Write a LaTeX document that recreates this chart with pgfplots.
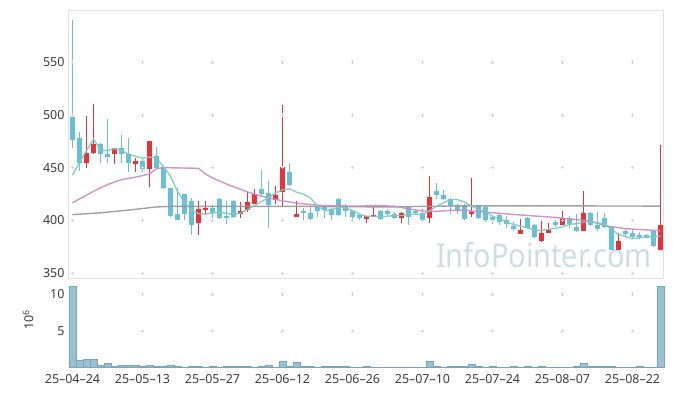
\documentclass[border=0pt]{standalone}
\usepackage{pgfplots}
\pgfplotsset{compat=1.18}
\usepackage{pgfplotstable}
\usepackage{fontspec}
\setmainfont{Noto Sans}
\definecolor{upred}{RGB}{232,50,58}
\definecolor{dnblue}{RGB}{104,192,216}
\definecolor{maA}{RGB}{128,200,190}
\definecolor{maB}{RGB}{204,136,196}
\definecolor{maC}{RGB}{150,150,150}
\definecolor{volfill}{RGB}{155,192,208}
\definecolor{voledge}{RGB}{120,165,185}
\definecolor{wm}{RGB}{205,221,232}
\definecolor{gridc}{RGB}{212,212,212}
\definecolor{framec}{RGB}{226,226,226}
\definecolor{txt}{RGB}{60,60,60}

\pgfplotstableread{
i o h l c
2 454 499 450 464
3 464 510 463 472
6 463 469 453 469
9 453 459 446 456
11 449 475 432 475
18 398 418 386 411
19 410 418 405 412
24 406 417 402 408.5
25 410 427 408 417
26 416 430 416 425
29 419.5 433 416 424
30 427 509 414 451
32 403 418 403 406
42 401 404 398 404
43 403.5 413 403 405
47 402 408 398 407.5
51 402.5 442.5 398 422.6
57 406 440 403.5 408
64 387 401.6 387 391
67 380.5 399.4 380 388.4
68 388.4 398 388 390.6
70 395.6 408.8 395.6 402
73 390 428.3 390 406.6
78 372 388 372 381
84 372 471 372 396
}\up

\pgfplotstableread{
i o h l c
0 498 590 469 476
1 478 484 447 454
4 472 473 454 463
5 463 496 454 460
7 469 481 454 463
8 463 478 446 454
10 456 459 446 449
12 461 470 449 450
13 451 451 430 431
14 431 431 403 404
15 406 431 400 400
16 425 425 400 406
17 418 421 386 396
20 412 415 402 407
21 420 421 401 402
22 404 418 397 402
23 418 419 402 403
27 430 448 423 425
28 426 437 393 415
31 446 454 433 434
33 409 412 400 407
34 407.5 415 400 401
35 414 415 403 409
36 413 415 402 410
37 411 412 400 405
38 420 421 404 405
39 414 416 403 409
40 409 410 401 403.5
41 405.5 406 400 402
44 409 410 400 401
45 409 411 404 406
46 406 408 401 402
48 413 414 396 403.5
49 409 410 405 406.6
50 407 411 399 400
52 428 435.5 420.5 424
53 424.5 429 419 420.5
54 420.5 421 406 413.5
55 414 416 406 409
56 413.5 416 400 401
58 414 415 401 402
59 412.5 414 399 400.3
60 403.5 404 397 400
61 404.7 406 396 398.8
62 400 404 393 397
63 395 399 390 391.5
65 402.5 403 392 393
66 396 397 383 384
69 399 400 394 395.6
71 402 404 393 397
72 393.7 405.7 389 390
74 406.6 408 395 395.3
75 396 408 390 391.5
76 402 407 393 394
77 394 394 372 372
79 389.6 392 384 386.8
80 388 392 383 384
81 386 389 382 383
82 386 387 383 383.5
83 390 391 375 375.5
}\down

\pgfplotstableread{
i v
0 442.7
1 455
2 466
3 477
4 467
5 466
6 468
7 466
8 463
9 460.7
10 459
11 460
12 459
13 451
14 442
15 427.6
16 417
17 410
18 406.5
19 406
20 407
21 408
22 406.5
23 405.7
24 407
25 410.4
26 414
27 418
28 421.4
29 426
30 429
31 429.9
32 426.8
33 425
34 421.4
35 413.6
36 409.4
37 410
38 412.6
39 412
40 409.4
41 406
42 404
43 404
44 403.5
45 404
46 404.7
47 404.7
48 405.7
49 406
50 405.7
51 409
52 413.6
53 416.7
54 419.8
55 419.8
56 417.3
57 413.6
58 410.4
59 409
60 404
61 401.6
62 398.4
63 396.2
64 394.6
65 393
66 390.9
67 390.6
68 391.5
69 392.5
70 394
71 396.2
72 396.9
73 398.4
74 398.7
75 397.8
76 396.2
77 391.5
78 386.8
79 384.6
80 382.7
81 383.6
82 384.2
83 384.6
84 385.2
}\maA

\pgfplotstableread{
i v
0 416.7
3 427.6
5 434
7 438.7
9 441
11 444
12 449
13 450
18 449.4
19 444
20 440.3
22 434.5
25 427
27 423
30 418.5
32 416.5
34 415
36 414
41 413.5
43 414.2
46 413.5
48 411
50 409
52 408.6
54 409.6
56 409.5
60 407.3
64 405.2
69 402.8
74 399.4
76 395.2
79 392.2
84 390.3
}\maB

\pgfplotstableread{
i v
0 405.5
4 407.2
8 409.8
12 412.8
14 413.3
30 413.4
45 412.8
55 413.8
70 413.8
84 413.6
}\maC

\pgfplotstableread{
i v
0 11.0
1 0.97
2 1.1
3 1.1
4 0.28
5 0.55
6 0.14
7 0.28
8 0.28
9 0.28
10 0.14
11 0.28
12 0.14
13 0.14
14 0.28
15 0.14
16 0.03
17 0.14
18 0.14
19 0.03
20 0.14
21 0.03
22 0.14
23 0.14
24 0.14
25 0.14
26 0.03
27 0.14
28 0.28
29 0.03
30 0.87
31 0.14
32 0.73
33 0.14
34 0.14
35 0.03
36 0.14
37 0.14
38 0.14
39 0.14
40 0.03
41 0.03
42 0.14
43 0.03
44 0.03
45 0.03
46 0.03
47 0.03
48 0.03
49 0.03
50 0.03
51 0.87
52 0.14
53 0.03
54 0.14
55 0.14
56 0.14
57 0.41
58 0.14
59 0.03
60 0.14
61 0.03
62 0.03
63 0.14
64 0.03
65 0.14
66 0.03
67 0.14
68 0.03
69 0.03
70 0.03
71 0.03
72 0.14
73 0.55
74 0.14
75 0.14
76 0.14
77 0.14
78 0.03
79 0.03
80 0.03
81 0.14
82 0.03
83 0.03
84 11.1
}\vol

\begin{document}
\begin{tikzpicture}
\path[use as bounding box] (-68bp,-118bp) rectangle (605bp,278bp);
\begin{axis}[
  name=price, at={(0,0)}, anchor=south west,
  scale only axis, width=595bp, height=268bp,
  xmin=-0.64, xmax=84.36, ymin=345.5, ymax=599.3,
  xtick={0,10,...,80}, xticklabels={},
  ytick={350,400,450,500,550},
  major tick length=0pt,
  axis line style={framec},
  tick style={draw=none},
  /pgf/number format/assume math mode=true,
  yticklabel style={font=\fontsize{12.5}{14}\selectfont, text=txt},
  clip=false,
]
\node[anchor=base east, font=\fontsize{33}{36}\selectfont, text=wm, xscale=0.88] at (axis cs:83.2,355.7) {InfoPointer.com};
\pgfplotsinvokeforeach{0,10,...,80}{
  \addplot[only marks, mark=+, mark size=1.7bp, gridc, forget plot] coordinates {(#1,350)(#1,400)(#1,450)(#1,500)(#1,550)};
}
% wicks
\addplot[draw=none, mark=none, forget plot, error bars/.cd, y dir=plus, y explicit, error mark=none,
  error bar style={draw=upred, line width=1.1bp}]
  table[x=i, y=l, y error plus expr=\thisrow{h}-\thisrow{l}] {\up};
\addplot[draw=none, mark=none, forget plot, error bars/.cd, y dir=plus, y explicit, error mark=none,
  error bar style={draw=dnblue, line width=1.1bp}]
  table[x=i, y=l, y error plus expr=\thisrow{h}-\thisrow{l}] {\down};
% bodies
\addplot[draw=none, mark=none, forget plot, error bars/.cd, y dir=plus, y explicit, error mark=none,
  error bar style={draw=upred, line width=5bp}]
  table[x=i, y=o, y error plus expr=\thisrow{c}-\thisrow{o}] {\up};
\addplot[draw=none, mark=none, forget plot, error bars/.cd, y dir=plus, y explicit, error mark=none,
  error bar style={draw=dnblue, line width=5bp}]
  table[x=i, y=c, y error plus expr=\thisrow{o}-\thisrow{c}] {\down};
% moving averages
\addplot[maC, line width=1.4bp, opacity=0.9, mark=none] table[x=i, y=v] {\maC};
\addplot[maB, line width=1.4bp, opacity=0.9, mark=none] table[x=i, y=v] {\maB};
\addplot[maA, line width=1.4bp, opacity=0.9, mark=none] table[x=i, y=v] {\maA};
\end{axis}

\begin{axis}[
  name=volume, at={(price.south west)}, anchor=north west,
  scale only axis, width=595bp, height=89.3bp,
  xmin=-0.64, xmax=84.36, ymin=0, ymax=12.2,
  xtick={0,10,...,80},
  xticklabels={25\textendash04\textendash24,25\textendash05\textendash13,25\textendash05\textendash27,25\textendash06\textendash12,25\textendash06\textendash26,25\textendash07\textendash10,25\textendash07\textendash24,25\textendash08\textendash07,25\textendash08\textendash22},
  ytick={5,10},
  major tick length=0pt,
  axis line style={draw=none},
  tick style={draw=none},
  /pgf/number format/assume math mode=true,
  yticklabel style={font=\fontsize{12.5}{14}\selectfont, text=txt},
  xticklabel style={font=\fontsize{12.5}{14}\selectfont, text=txt, yshift=-4bp},
  ylabel={10\textsuperscript{6}},
  ylabel style={font=\fontsize{12.5}{14}\selectfont, text=txt, at={(axis description cs:-0.052,0.53)}, anchor=south},
  clip=false,
]
\pgfplotsinvokeforeach{10,20,...,80}{
  \addplot[only marks, mark=+, mark size=1.7bp, gridc, forget plot] coordinates {(#1,5)(#1,10)};
}
\addplot[ybar, bar width=7bp, bar shift=0pt, fill=volfill, draw=voledge, line width=0.6bp] table[x=i, y=v] {\vol};
\end{axis}
\end{tikzpicture}
\end{document}
